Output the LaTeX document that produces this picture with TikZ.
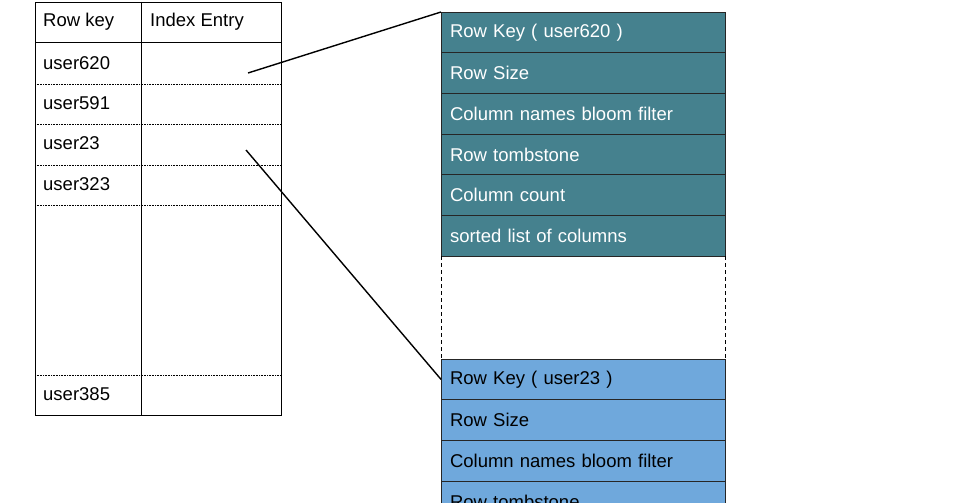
\documentclass[tikz,border=0pt]{standalone}
\usepackage{fontspec}
\setmainfont{Liberation Sans}
\usetikzlibrary{positioning}
\definecolor{rowteal}{HTML}{45818E}
\definecolor{rowblue}{HTML}{6FA8DC}
\begin{document}
\begin{tikzpicture}[x=1pt,y=-1pt,node distance=0pt]
    \tikzset{
      cell/.style={anchor=west,inner sep=0pt,font=\fontsize{18.5}{21}\selectfont},
      field/.style={draw=black!85,line width=0.8pt,minimum width=284pt,minimum height=40.7pt,text width=266pt,align=left,inner xsep=9pt,inner ysep=0pt,outer sep=0pt,font=\fontsize{18.5}{21}\selectfont},
      oldrow/.style={field,fill=rowteal,text=white},
      newrow/.style={field,fill=rowblue,text=black},
      sep/.style={densely dotted,line width=0.6pt},
      link/.style={line width=1.4pt}
    }
    \useasboundingbox (0,0) rectangle (958,503);
    % index table
    \draw[line width=0.8pt] (35,2) rectangle (281,415);
    \draw[line width=0.8pt] (141,2) -- (141,415);
    \draw[line width=0.8pt] (35,42) -- (281,42);
    \foreach \y in {84,124,165,205,375}
      \draw[sep] (35,\y) -- (281,\y);
    \node[cell] (hkey) at (43,22) {Row key};
    \node[cell] (hidx) at (150,22) {Index Entry};
    \node[cell] (u620) at (43,63) {user620};
    \node[cell] (u591) at (43,103) {user591};
    \node[cell] (u23) at (43,143) {user23};
    \node[cell] (u323) at (43,184) {user323};
    \node[cell] (u385) at (43,394) {user385};
    % row of user620
    \node[oldrow,anchor=north west] (o1) at (441,12) {Row Key ( user620 )};
    \node[oldrow,below=of o1] (o2) {Row Size};
    \node[oldrow,below=of o2] (o3) {Column names bloom filter};
    \node[oldrow,below=of o3] (o4) {Row tombstone};
    \node[oldrow,below=of o4] (o5) {Column count};
    \node[oldrow,below=of o5] (o6) {sorted list of columns};
    % row of user23
    \node[newrow,anchor=north west] (n1) at (441,359) {Row Key ( user23 )};
    \node[newrow,below=of n1] (n2) {Row Size};
    \node[newrow,below=of n2] (n3) {Column names bloom filter};
    \node[newrow,below=of n3] (n4) {Row tombstone};
    \draw[dash pattern=on 4pt off 3pt,line width=0.8pt] (o6.south west) -- (n1.north west);
    \draw[dash pattern=on 4pt off 3pt,line width=0.8pt] (o6.south east) -- (n1.north east);
    % index entries pointing into the data file
    \coordinate (e620) at (248,73);
    \coordinate (e23) at (246,150);
    \draw[link] (e620) -- (o1.north west);
    \draw[link] (e23) -- (n1.west);
\end{tikzpicture}
\end{document}
